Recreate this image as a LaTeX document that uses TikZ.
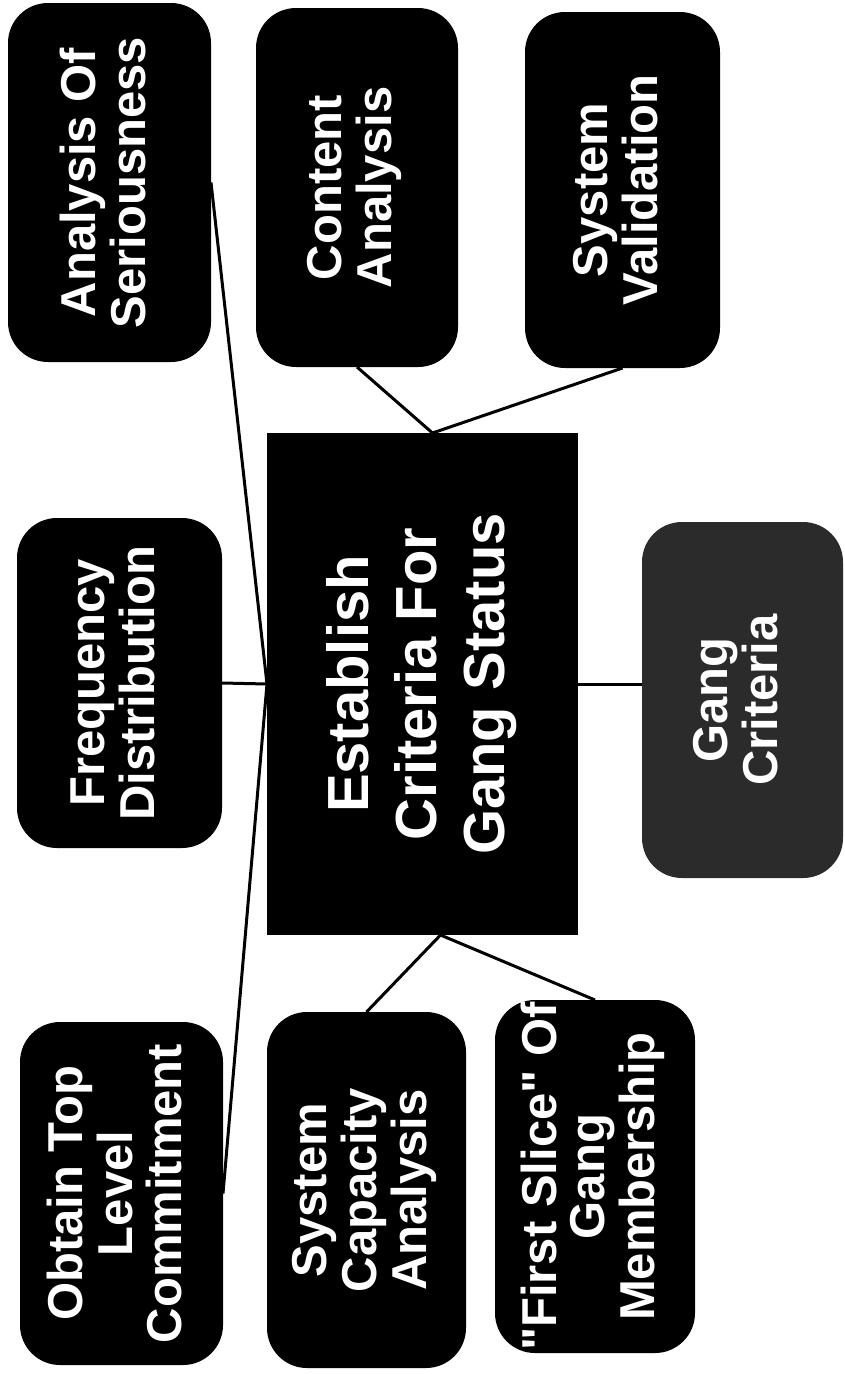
\documentclass[tikz,border=0pt]{standalone}
\usepackage{fontspec}
\setmainfont{Liberation Sans}
\newfontfamily\qfont{Liberation Sans}
\usepackage{graphicx}
\usetikzlibrary{calc}
\newcommand\vlab[1]{\rotatebox{90}{\begin{tabular}{@{}c@{}}#1\end{tabular}}}
\newcommand\sq{{\qfont\bfseries"}}
\tikzset{
  boxbase/.style={rectangle, inner sep=0pt, outer sep=0pt, text=white,
    font=\fontsize{49}{48}\selectfont\bfseries},
  rbox/.style={boxbase, fill=black, rounded corners=40pt},
  gbox/.style={boxbase, fill=black!83, rounded corners=40pt},
  cbox/.style={boxbase, fill=black, font=\fontsize{58}{68}\selectfont\bfseries},
  link/.style={draw=black, line width=3pt},
}
\begin{document}
\begin{tikzpicture}[x=1pt, y=-1pt]
\useasboundingbox[fill=white] (0,0) rectangle (845,1374);
\node[cbox, minimum width=311pt, minimum height=502pt] (ctr) at (422.5,684)
  {\vlab{Establish\\Criteria For\\Gang Status}};
\node[rbox, minimum width=203pt, minimum height=359pt] (ser) at (109.5,182.5)
  {\vlab{Analysis Of\\Seriousness}};
\node[rbox, minimum width=202pt, minimum height=359pt] (con) at (357,187.5)
  {\vlab{Content\\Analysis}};
\node[rbox, minimum width=195pt, minimum height=356pt] (val) at (622.5,190)
  {\vlab{System\\Validation}};
\node[rbox, minimum width=205pt, minimum height=330pt] (frq) at (119.5,683)
  {\vlab{Frequency\\Distribution}};
\node[gbox, minimum width=201pt, minimum height=356pt] (gng) at (742.5,700)
  {\vlab{Gang\\Criteria}};
\node[rbox, minimum width=203pt, minimum height=343pt] (obt) at (121.5,1193.5)
  {\vlab{Obtain Top\\Level\\Commitment}};
\node[rbox, minimum width=199pt, minimum height=356pt] (cap) at (366.5,1190)
  {\vlab{System\\Capacity\\Analysis}};
\node[rbox, minimum width=200pt, minimum height=353pt] (fst) at (595,1176.5)
  {\vlab{\sq First Slice\sq{} Of\\Gang\\Membership}};
\coordinate (tj) at ($(ctr.north)+(10,0)$);
\coordinate (bj) at ($(ctr.south)+(18,0)$);
\draw[link] (ser.east) -- (ctr.west);
\draw[link] (frq.east) -- (ctr.west);
\draw[link] (obt.east) -- (ctr.west);
\draw[link] (con.south) -- (tj);
\draw[link] (val.south) -- (tj);
\draw[link] (bj) -- (cap.north);
\draw[link] (bj) -- (fst.north);
\draw[link] (ctr.east) -- (ctr.east -| gng.west);
\end{tikzpicture}
\end{document}
